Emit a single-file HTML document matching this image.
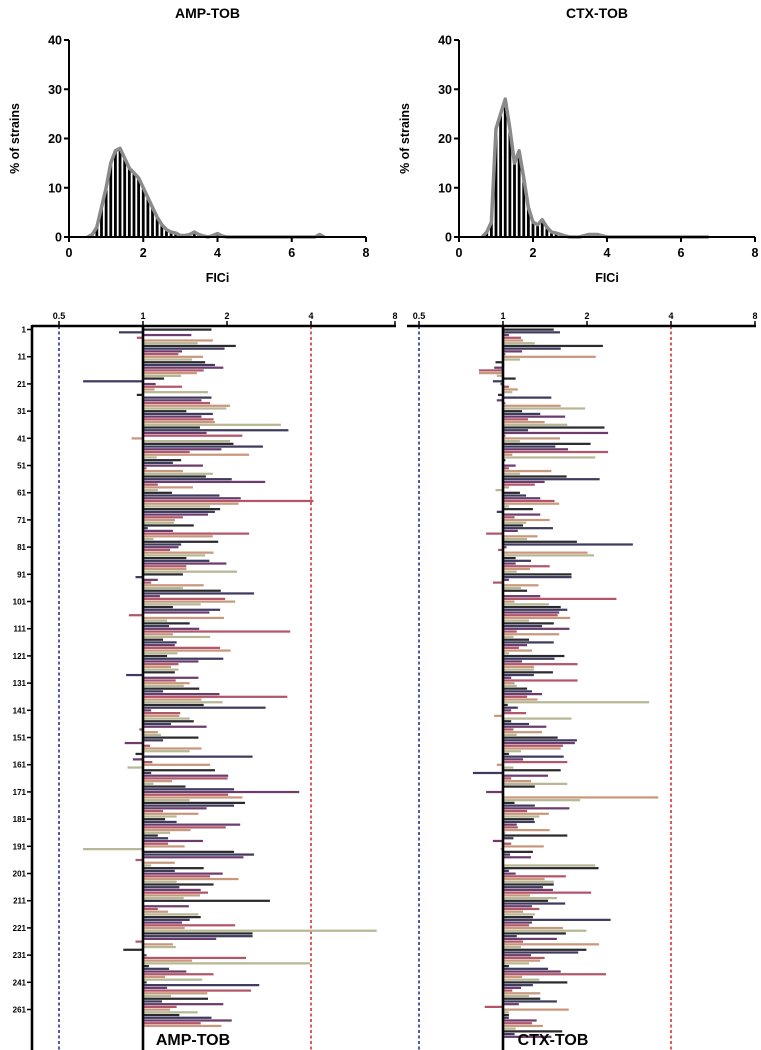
<!DOCTYPE html>
<html><head><meta charset="utf-8"><style>
html,body{margin:0;padding:0;background:#fff;}
svg{display:block;font-family:"Liberation Sans",Arial,sans-serif;font-weight:bold;}
</style></head><body>
<svg id="fig" width="761" height="1050" viewBox="0 0 761 1050" xmlns="http://www.w3.org/2000/svg">
<g id="topgroup"></g><g id="bottomgroup"></g>
</svg>
<script>
// ---- histogram data ----
const ampBins = [0.5,0.625,0.75,0.875,1.0,1.125,1.25,1.375,1.5,1.625,1.75,1.875,2.0,2.125,2.25,2.375,2.5,2.625,2.75,2.875,3.0,3.125,3.25,3.375,3.5,3.625,3.75,3.875,4.0,4.125,4.25,6.625,6.75,6.875];
const ampPct  = [0,0.5,2,6,10,15,17.5,18,16,14,13,12,10,8,6,4,2.5,1.5,1,0.8,0.3,0.3,0.5,1,0.5,0.2,0,0.3,0.7,0.2,0,0,0.5,0];
const ctxBins = [0.625,0.75,0.875,1.0,1.125,1.25,1.375,1.5,1.625,1.75,1.875,2.0,2.125,2.25,2.375,2.5,2.625,2.75,2.875,3.0,3.25,3.5,3.75,4.0,6.75];
const ctxPct  = [0,1,3,22,25,28,22,15,17.5,12,6,3,2.5,3.5,2,1,0.8,0.5,0.2,0,0,0.5,0.5,0,0];
const histXTicks = [0,2,4,6,8];
const histYTicks = [0,10,20,30,40];

// ---- per-strain FICi data ----
const ampFici = [1.76,0.82,1.49,0.95,1.78,1.57,2.15,1.96,1.38,1.34,1.64,1.50,1.67,1.81,1.94,1.65,1.56,1.37,1.19,0.61,1.11,1.38,1.10,1.71,0.95,1.76,1.62,1.74,2.05,1.99,1.43,1.78,1.62,1.79,1.81,3.12,1.60,3.32,1.69,2.27,0.91,2.05,2.11,2.69,1.91,1.47,2.40,1.12,1.37,1.28,1.64,1.03,1.39,1.78,1.68,2.08,2.74,1.13,1.51,1.13,1.27,1.88,2.24,4.08,2.20,1.74,1.89,1.81,1.71,1.39,1.30,1.29,1.52,1.04,1.28,2.40,1.78,1.09,1.86,1.37,1.34,1.25,1.79,1.67,1.43,1.73,1.99,1.43,
1.43,2.17,1.39,0.94,1.13,1.07,1.65,1.39,1.90,2.50,1.15,1.97,2.14,1.61,1.28,1.89,1.73,0.89,1.95,1.22,1.47,1.24,1.59,3.37,1.28,1.74,1.18,1.32,1.30,1.89,2.06,1.33,1.22,1.94,1.58,1.34,1.26,1.34,1.30,0.87,1.58,1.31,1.47,1.40,1.59,1.18,1.88,3.29,1.62,1.93,1.65,2.75,1.07,1.36,1.35,1.47,1.52,1.26,1.69,0.97,1.13,1.16,1.58,1.18,0.86,1.06,1.62,1.47,0.94,2.47,0.92,1.08,1.74,0.88,1.81,1.07,2.02,2.01,1.27,1.09,1.42,2.12,3.63,2.02,2.27,1.47,2.32,2.12,1.69,
1.18,1.58,1.32,1.20,1.32,2.23,1.98,1.48,1.25,1.13,1.23,1.64,1.23,1.41,0.61,2.12,2.50,2.29,0.94,1.30,1.07,1.65,1.30,1.93,1.74,2.20,1.32,1.79,1.35,1.61,1.71,1.60,1.40,2.85,1.00,1.46,1.13,1.23,1.58,1.61,1.47,1.38,2.14,1.41,6.88,2.47,2.47,1.83,0.94,1.28,1.31,0.85,1.00,1.03,2.34,1.50,3.97,1.05,1.24,1.43,1.79,1.20,1.63,1.03,2.61,1.22,2.44,1.70,1.26,1.71,1.17,1.94,1.32,1.25,1.57,1.35,1.76,2.08,1.61,1.91];
const ctxFici = [1.52,1.60,1.05,1.16,1.18,1.30,2.28,1.61,1.17,1.02,2.15,1.15,0.94,1.01,0.93,0.82,0.82,0.95,1.11,0.92,0.98,1.05,1.13,1.08,0.96,1.49,0.95,1.02,1.61,1.97,1.17,1.36,1.67,1.23,1.41,1.70,2.31,1.23,2.38,1.02,1.60,1.15,2.06,1.54,1.71,2.38,1.08,2.14,1.02,1.00,1.11,1.05,1.49,1.15,1.69,2.22,1.41,1.30,1.05,0.94,1.15,1.21,1.36,1.53,1.59,1.05,1.28,0.95,1.36,1.10,1.47,1.21,1.18,1.51,1.13,0.87,1.33,1.22,1.84,2.92,1.03,0.96,2.01,2.12,1.11,1.26,1.11,1.47,1.25,1.12,1.76,
1.76,1.05,0.92,1.34,1.16,1.22,1.00,1.36,2.55,1.10,1.46,1.61,1.70,1.59,1.57,1.74,1.24,1.52,1.38,1.73,1.12,1.59,1.09,1.24,1.52,1.22,1.14,1.27,1.05,1.66,1.53,1.17,1.85,1.29,1.29,1.51,1.29,1.07,1.85,1.10,1.12,1.22,1.27,1.38,1.22,1.33,3.34,1.04,1.13,1.07,1.21,0.93,1.76,1.07,1.24,1.43,1.09,1.38,1.12,1.57,1.84,1.81,1.64,1.61,1.16,1.05,1.65,1.18,1.70,0.95,1.09,1.61,0.78,1.45,1.07,1.26,1.70,1.30,1.00,0.87,1.01,3.60,1.89,1.10,1.30,1.73,1.22,1.46,1.35,1.29,
1.30,1.12,1.13,1.47,1.02,1.70,1.09,0.92,1.07,1.40,0.98,1.28,1.06,1.26,1.00,1.00,2.14,2.20,1.05,1.11,1.68,1.41,1.52,1.52,1.39,1.51,2.07,1.25,1.56,1.45,1.67,1.27,1.35,1.18,1.30,1.28,2.43,1.27,1.24,1.64,1.99,1.68,1.12,1.56,1.18,2.21,1.16,1.99,1.86,1.26,1.41,1.36,1.24,1.05,1.45,1.61,2.34,1.17,1.35,1.70,1.28,1.16,1.08,1.36,1.24,1.36,1.56,1.14,0.86,1.72,1.05,1.05,1.05,1.32,1.27,1.39,1.11,1.63,1.10,1.49];
const barTicks = [0.5,1,2,4,8];
const barTickLabels = ["0.5","1","2","4","8"];
const rowLabels = ["1","11","21","31","41","51","61","71","81","91","101","111","121","131","141","151","161","171","181","191","201","211","221","231","241","261"];
const barColors = ["#2b2a2e","#3e3b5e","#6c3d6c","#b2566a","#c9977c","#b7b796"];

const NS="http://www.w3.org/2000/svg";
function mk(parent,tag,attrs,text){const e=document.createElementNS(NS,tag);for(const k in attrs)e.setAttribute(k,attrs[k]);if(text!==undefined)e.textContent=text;parent.appendChild(e);return e;}
const topG=document.getElementById('topgroup'), botG=document.getElementById('bottomgroup');

function histogram(x0,x1,y0,y1,title,bins,pct,key){
  const sx=v=>x0+(v/8)*(x1-x0), sy=v=>y0-(v/40)*(y0-y1);
  const g=mk(topG,'g',{});
  
  
  const t=mk(g,'text',{x:(x0+x1)/2-10,y:18,'text-anchor':'middle','font-size':'14'},title);
  
  
  bins.forEach((b,i)=>{ if(pct[i]<=0)return;
    const r=mk(g,'rect',{x:sx(b)-1.4,y:sy(pct[i]),width:2.8,height:y0-sy(pct[i]),fill:'#000'});
    
    
  });
  const pts=bins.map((b,i)=>sx(b)+','+sy(pct[i])).join(' ');
  const ln=mk(g,'polyline',{points:pts,fill:'none',stroke:'#8a8a8a','stroke-width':3.5,'stroke-linejoin':'round'});
  
  
  mk(g,'line',{x1:x0,y1:y0,x2:x1,y2:y0,stroke:'#000','stroke-width':2});
  mk(g,'line',{x1:x0,y1:y0+1,x2:x0,y2:y1,stroke:'#000','stroke-width':2});
  histXTicks.forEach(v=>{
    mk(g,'line',{x1:sx(v),y1:y0,x2:sx(v),y2:y0+5,stroke:'#000','stroke-width':2});
    const tl=mk(g,'text',{x:sx(v),y:y0+20,'text-anchor':'middle','font-size':'12.5'},String(v));
    
    
  });
  histYTicks.forEach(v=>{
    mk(g,'line',{x1:x0-5,y1:sy(v),x2:x0,y2:sy(v),stroke:'#000','stroke-width':2});
    const tl=mk(g,'text',{x:x0-7,y:sy(v)+4.5,'text-anchor':'end','font-size':'12.5'},String(v));
    
    
  });
  const xt=mk(g,'text',{x:(x0+x1)/2,y:y0+45,'text-anchor':'middle','font-size':'12.5'},'FICi');
  
  
  const yt=mk(g,'text',{x:0,y:0,'text-anchor':'middle','font-size':'12.5',transform:`translate(${x0-50},${(y0+y1)/2}) rotate(-90)`},'% of strains');
  
  
}
histogram(69,366,237,40,'AMP-TOB',ampBins,ampPct,'amp-tob');
histogram(459,755,237,40,'CTX-TOB',ctxBins,ctxPct,'ctx-tob');

function barPanel(oneX,leftX,rightX,data,title,key,withRowAxis){
  const axY=326, y0=328.5, per=84, rh=2.72;
  const sx=v=>oneX+Math.log2(v)*per;
  const g=mk(botG,'g',{});
  
  
  const bl=mk(g,'line',{x1:sx(0.5),y1:axY,x2:sx(0.5),y2:1050,stroke:'#3a4aa0','stroke-width':1.8,'stroke-dasharray':'3,2.5'});
  
  
  const rl=mk(g,'line',{x1:sx(4),y1:axY,x2:sx(4),y2:1050,stroke:'#e04848','stroke-width':1.8,'stroke-dasharray':'3,2.5'});
  
  
  data.forEach((v,i)=>{
    const x=sx(v), y=y0+i*rh;
    const r=mk(g,'rect',{x:Math.min(x,oneX),y:y,width:Math.abs(x-oneX),height:rh*0.82,fill:barColors[i%barColors.length]});
    
    
  });
  mk(g,'line',{x1:oneX,y1:axY,x2:oneX,y2:1050,stroke:'#000','stroke-width':2.6});
  mk(g,'line',{x1:leftX,y1:axY,x2:rightX,y2:axY,stroke:'#000','stroke-width':2.6});
  barTicks.forEach((v,i)=>{
    mk(g,'line',{x1:sx(v),y1:axY,x2:sx(v),y2:axY-5,stroke:'#000','stroke-width':1.5});
    const tl=mk(g,'text',{x:sx(v),y:axY-7,'text-anchor':'middle','font-size':'9'},barTickLabels[i]);
    
    
  });
  if(withRowAxis){
    mk(g,'line',{x1:leftX,y1:axY-1,x2:leftX,y2:1050,stroke:'#000','stroke-width':2.6});
    rowLabels.forEach((lab,i)=>{
      const y=y0+i*10*rh+1;
      mk(g,'line',{x1:leftX-5,y1:y,x2:leftX,y2:y,stroke:'#000','stroke-width':1.5});
      const tl=mk(g,'text',{x:leftX-6,y:y+3,'text-anchor':'end','font-size':'8'},lab);
      
      
    });
  }
  const tt=mk(g,'text',{x:oneX+50,y:1045,'text-anchor':'middle','font-size':'16'},title);
  
  
}
barPanel(143,32,396,ampFici,'AMP-TOB','amp-tob',true);
barPanel(503,407,756,ctxFici,'CTX-TOB','ctx-tob',false);
</script>
</body></html>
